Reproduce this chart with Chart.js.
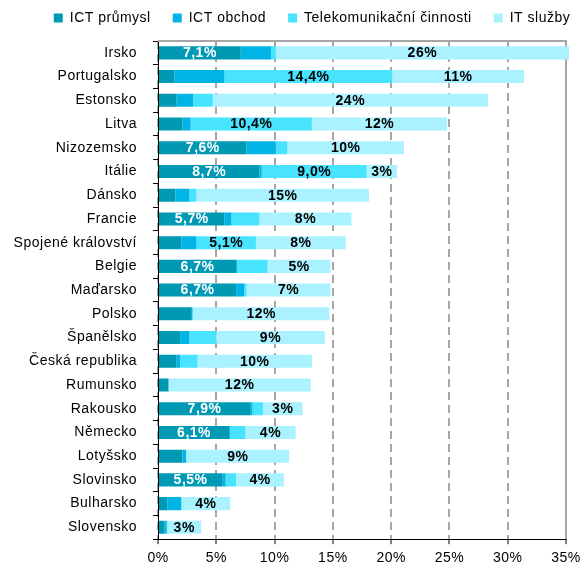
<!DOCTYPE html>
<html>
<head>
<meta charset="utf-8">
<script src="https://cdn.jsdelivr.net/npm/chart.js@4.4.1/dist/chart.umd.min.js"></script>
<style>
  html, body { margin: 0; padding: 0; background: #fff; }
  #wrap { width: 583px; height: 573px; }
</style>
</head>
<body>
<div id="wrap"><canvas id="c"></canvas></div>
<script>
// Podíl odvětví ICT (v %), rozdělení podle čtyř složek
const countries = [
  'Irsko', 'Portugalsko', 'Estonsko', 'Litva', 'Nizozemsko', 'Itálie', 'Dánsko',
  'Francie', 'Spojené království', 'Belgie', 'Maďarsko', 'Polsko', 'Španělsko',
  'Česká republika', 'Rumunsko', 'Rakousko', 'Německo', 'Lotyšsko', 'Slovinsko',
  'Bulharsko', 'Slovensko'
];
const ictPrumysl = [7.1, 1.4, 1.6, 2.1, 7.6, 8.7, 1.5, 5.7, 2.0, 6.7, 6.7, 2.9, 1.9, 1.6, 0.9, 7.9, 6.1, 2.1, 5.5, 0.8, 0.55];
const ictObchod  = [2.6, 4.3, 1.4, 0.7, 2.5, 0.2, 1.2, 0.6, 1.3, 0.1, 0.7, 0.05, 0.8, 0.3, 0.0, 0.2, 0.1, 0.3, 0.3, 1.2, 0.2];
const telekom    = [0.4, 14.4, 1.7, 10.4, 1.0, 9.0, 0.6, 2.4, 5.1, 2.6, 0.2, 0.05, 2.3, 1.5, 0.0, 0.9, 1.3, 0.05, 0.9, 0.0, 0.05];
const itSluzby   = [25.6, 11.3, 23.6, 11.6, 10.0, 2.6, 14.8, 7.9, 7.7, 5.4, 7.2, 11.7, 9.3, 9.8, 12.2, 3.4, 4.3, 8.8, 4.1, 4.2, 2.9];
const seriesNames = ['ICT průmysl', 'ICT obchod', 'Telekomunikační činnosti', 'IT služby'];
const xTickValues = [0, 5, 10, 15, 20, 25, 30, 35];

const FONT = "'Liberation Sans', Arial, sans-serif";
const colors = ['#0099B4', '#00B4E6', '#48E4FF', '#AAF2FF'];

// how each series is labelled inside its segment
const labelRules = [
  { min: 5, color: '#fff', fmt: v => v.toFixed(1).replace('.', ',') + '%' },
  null,
  { min: 5, color: '#000', fmt: v => v.toFixed(1).replace('.', ',') + '%' },
  { min: 0, color: '#000', fmt: v => Math.round(v) + '%' }
];

const spacing = {
  id: 'spacing',
  beforeUpdate(chart) { chart.ctx.letterSpacing = '0.5px'; },
  beforeDraw(chart) { chart.ctx.letterSpacing = '0.5px'; }
};

// legend row sits a little right of the canvas centre, close to the top edge
const legendShift = {
  id: 'legendShift',
  afterLayout(chart) {
    const lg = chart.legend;
    lg.left += 29; lg.right += 29;
    lg.top -= 6; lg.bottom -= 6;
  }
};

const frame = {
  id: 'frame',
  beforeDatasetsDraw(chart) {
    const { ctx, chartArea: a } = chart;
    ctx.save();
    ctx.strokeStyle = '#A6A6A6';
    ctx.lineWidth = 2;
    ctx.beginPath();
    ctx.moveTo(a.left, a.top);
    ctx.lineTo(a.right, a.top);
    ctx.lineTo(a.right, a.bottom);
    ctx.stroke();
    ctx.restore();
  }
};

const segLabels = {
  id: 'segLabels',
  afterDatasetsDraw(chart) {
    const ctx = chart.ctx;
    ctx.save();
    ctx.font = 'bold 14px ' + FONT;
    ctx.textAlign = 'center';
    ctx.textBaseline = 'middle';
    chart.data.datasets.forEach((ds, di) => {
      const rule = labelRules[di];
      if (!rule) return;
      const meta = chart.getDatasetMeta(di);
      meta.data.forEach((bar, i) => {
        const v = ds.data[i];
        if (v < rule.min || v <= 0) return;
        const right = Math.min(bar.x, chart.chartArea.right + 3);
        ctx.fillStyle = rule.color;
        ctx.fillText(rule.fmt(v), (right + bar.base) / 2, bar.y + 0.5);
      });
    });
    ctx.restore();
  }
};

const seriesData = [ictPrumysl, ictObchod, telekom, itSluzby];

new Chart(document.getElementById('c'), {
  type: 'bar',
  data: {
    labels: countries,
    datasets: seriesData.map((d, i) => ({
      label: seriesNames[i],
      data: d,
      backgroundColor: colors[i],
      borderWidth: 0,
      categoryPercentage: 1,
      barPercentage: 0.55,
      clip: { left: 0, top: 0, right: 3, bottom: 0 }
    }))
  },
  options: {
    indexAxis: 'y',
    responsive: true,
    maintainAspectRatio: false,
    animation: false,
    devicePixelRatio: 1,
    layout: { padding: { left: 0, right: 17, top: -5, bottom: 0 } },
    plugins: {
      legend: {
        position: 'top',
        labels: {
          boxWidth: 9, boxHeight: 9, padding: 22,
          color: '#000',
          font: { family: FONT, size: 14 }
        }
      },
      tooltip: { enabled: false }
    },
    scales: {
      x: {
        stacked: true,
        min: 0, max: 35,
        afterBuildTicks(scale) { scale.ticks = xTickValues.map(v => ({ value: v })); },
        afterFit(scale) { scale.paddingRight = 0; },
        ticks: {
          color: '#000',
          padding: 6,
          font: { family: FONT, size: 14 },
          callback: v => v + '%'
        },
        grid: {
          color: '#A6A6A6',
          lineWidth: 2,
          drawTicks: true,
          tickLength: 5,
          tickColor: '#000',
          tickWidth: 1
        },
        border: { display: true, color: '#000', width: 1, dash: [8, 5] }
      },
      y: {
        stacked: true,
        afterFit(scale) { scale.width = 158; },
        ticks: {
          color: '#000',
          padding: 16,
          font: { family: FONT, size: 14 }
        },
        grid: {
          drawOnChartArea: false,
          drawTicks: true,
          tickLength: 5,
          tickColor: '#000',
          offset: true
        },
        border: { display: true, color: '#000', width: 1 }
      }
    }
  },
  plugins: [spacing, legendShift, frame, segLabels]
});
</script>
</body>
</html>
